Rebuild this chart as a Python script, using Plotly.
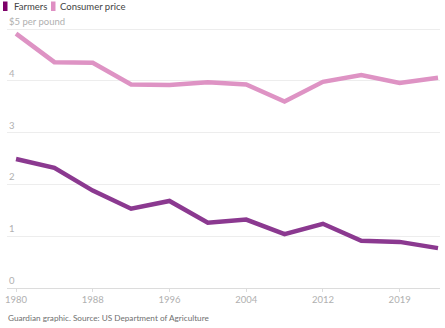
import plotly.graph_objects as go

years = ["1980", "1984", "1988", "1992", "1996", "2000", "2004", "2008", "2012", "2016", "2019", "2022"]
farmers = [2.49, 2.32, 1.88, 1.53, 1.68, 1.26, 1.32, 1.04, 1.24, 0.91, 0.89, 0.77]
consumer = [4.91, 4.36, 4.35, 3.93, 3.92, 3.97, 3.93, 3.60, 3.98, 4.11, 3.96, 4.06]
tick_years = ["1980", "1988", "1996", "2004", "2012", "2019"]
y_ticks = [0, 1, 2, 3, 4, 5]
y_text = ["0", "1", "2", "3", "4", "$5 per pound"]

W, H = 445, 328
L, R, T, B = 7, 5, 12, 40
PW, PH = W - L - R, H - T - B
UNIT = (H - B - 29) / 5.0
YTOP = (H - B - T) / UNIT
FONT = "Lato"

def px(x):
    return (x - L) / PW

def py(y):
    return (H - B - y) / PH

fig = go.Figure()
fig.add_trace(go.Scatter(x=years, y=consumer, mode="lines", name="Consumer price",
                         line=dict(color="#de93c4", width=4.5)))
fig.add_trace(go.Scatter(x=years, y=farmers, mode="lines", name="Farmers",
                         line=dict(color="#8b3990", width=4.5)))

shapes = [
    dict(type="rect", xref="paper", yref="paper", x0=px(3), x1=px(7.5), y0=py(11), y1=py(1.5),
         fillcolor="#7d0068", line=dict(width=0)),
    dict(type="rect", xref="paper", yref="paper", x0=px(51), x1=px(55.5), y0=py(11), y1=py(1.5),
         fillcolor="#df8fc3", line=dict(width=0)),
]
annotations = [
    dict(text="Farmers", xref="paper", yref="paper", x=px(12), y=py(6.5), xanchor="left", yanchor="middle",
         showarrow=False, font=dict(family=FONT, size=9.5, color="#444444")),
    dict(text="Consumer price", xref="paper", yref="paper", x=px(58), y=py(6.5), xanchor="left", yanchor="middle",
         showarrow=False, font=dict(family=FONT, size=9.5, color="#444444")),
    dict(text="Guardian graphic. Source: US Department of Agriculture", xref="paper", yref="paper",
         x=px(6), y=py(318), xanchor="left", yanchor="middle", showarrow=False,
         font=dict(family=FONT, size=8.2, color="#707070")),
]
for v, t in zip(y_ticks, y_text):
    annotations.append(dict(text=t, xref="paper", yref="y", x=0, y=v, xanchor="left", yanchor="bottom",
                            yshift=0, showarrow=False, font=dict(family=FONT, size=9.5, color="#b0b0b0")))

fig.update_layout(
    width=W, height=H,
    margin=dict(l=L, r=R, t=T, b=B, pad=0),
    paper_bgcolor="white", plot_bgcolor="white",
    showlegend=False,
    shapes=shapes, annotations=annotations,
    font=dict(family=FONT),
)
fig.update_xaxes(type="category", range=[-0.235, 11.052], tickvals=tick_years, ticktext=tick_years,
                 showgrid=False, showline=True, linecolor="#dcdcdc", linewidth=1,
                 ticks="outside", ticklen=3, tickcolor="#dcdcdc",
                 tickfont=dict(family=FONT, size=9.5, color="#b0b0b0"), zeroline=False)
fig.update_yaxes(range=[0, YTOP], tickvals=y_ticks, showticklabels=False,
                 showgrid=True, gridcolor="#ededed", gridwidth=1, zeroline=False, showline=False,
                 ticks="")

fig.write_html("out.html")
